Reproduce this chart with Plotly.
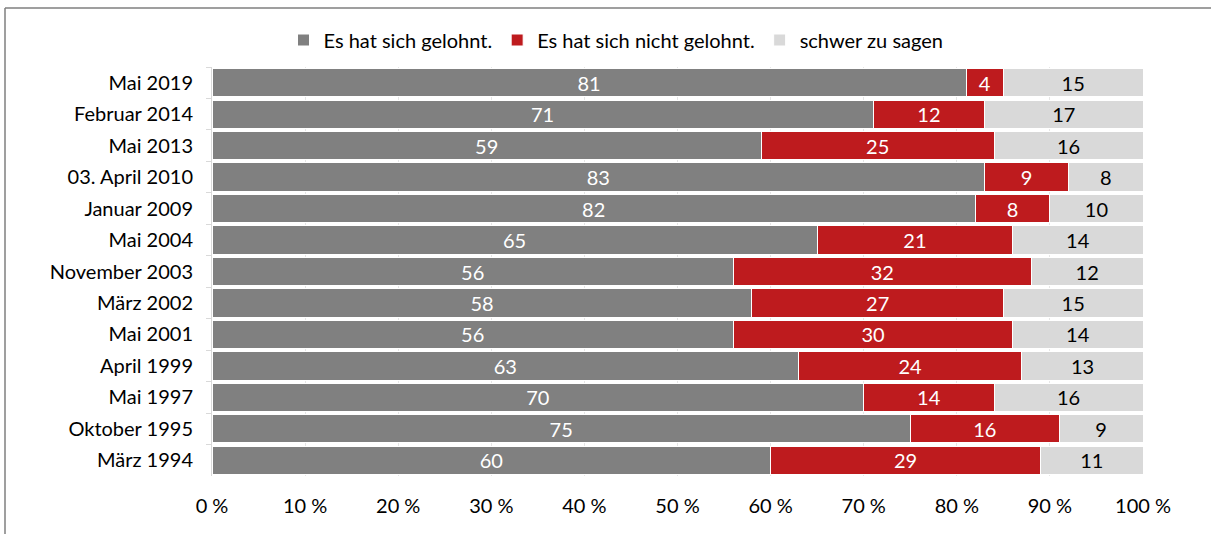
import plotly.graph_objects as go

categories = ["Mai 2019", "Februar 2014", "Mai 2013", "03. April 2010", "Januar 2009",
              "Mai 2004", "November 2003", "März 2002", "Mai 2001", "April 1999",
              "Mai 1997", "Oktober 1995", "März 1994"]
gelohnt = [81, 71, 59, 83, 82, 65, 56, 58, 56, 63, 70, 75, 60]
nicht_gelohnt = [4, 12, 25, 9, 8, 21, 32, 27, 30, 24, 14, 16, 29]
schwer = [15, 17, 16, 8, 10, 14, 12, 15, 14, 13, 16, 9, 11]
x_ticks = [0, 10, 20, 30, 40, 50, 60, 70, 80, 90, 100]

series = [
    ("Es hat sich gelohnt.", gelohnt, "#808080", "white"),
    ("Es hat sich nicht gelohnt.", nicht_gelohnt, "#BE1B1E", "white"),
    ("schwer zu sagen", schwer, "#D9D9D9", "black"),
]

FS = 20
fig = go.Figure()
for name, vals, color, tcolor in series:
    fig.add_trace(go.Bar(
        y=categories, x=vals, name=name, orientation="h",
        marker=dict(color=color, line=dict(color="white", width=1)),
        text=[str(v) for v in vals], texttemplate="%{text}", textposition="inside",
        insidetextanchor="middle", constraintext="none", textangle=0,
        textfont=dict(color=tcolor, size=FS, family="Lato"),
        hoverinfo="skip",
    ))

W, H = 1211, 534
L, R, T, B = 212, 68, 67, 58
pw = W - L - R
ph = H - T - B
fx = lambda px: (px - L) / pw
fy = lambda py: (H - B - py) / ph

fig.update_layout(
    barmode="stack", bargap=0.1,
    width=W, height=H,
    margin=dict(l=L, r=R, t=T, b=B),
    paper_bgcolor="white", plot_bgcolor="white",
    font=dict(family="Lato", size=FS, color="black"),
    legend=dict(orientation="h", x=fx(616), xanchor="center", y=fy(40), yanchor="middle",
                font=dict(size=FS), traceorder="normal", itemwidth=30),
    shapes=[
        dict(type="line", xref="paper", yref="paper", x0=fx(5), x1=fx(1211), y0=fy(8), y1=fy(8),
             line=dict(color="#7f7f7f", width=1.5)),
        dict(type="line", xref="paper", yref="paper", x0=fx(5), x1=fx(5), y0=fy(534), y1=fy(8),
             line=dict(color="#7f7f7f", width=1.5)),
    ],
)
fig.update_xaxes(range=[0, 100], tickvals=x_ticks, ticktext=[f"{v} %" for v in x_ticks],
                 showgrid=True, gridcolor="#E6E6E6", gridwidth=1, zeroline=False,
                 ticks="", ticklabelstandoff=16, tickfont=dict(size=FS), fixedrange=True)
fig.update_yaxes(autorange="reversed", showline=True, linecolor="#D9D9D9", linewidth=1,
                 ticks="outside", tickson="boundaries", ticklen=5, tickcolor="#D9D9D9",
                 ticklabelstandoff=14, tickfont=dict(size=FS), showgrid=False)

fig.write_html(
    "out.html", config={"displayModeBar": False, "responsive": False},
    post_script=("document.documentElement.style.overflow='hidden';"
                 "document.body.style.margin='0';document.body.style.overflow='hidden';"))
